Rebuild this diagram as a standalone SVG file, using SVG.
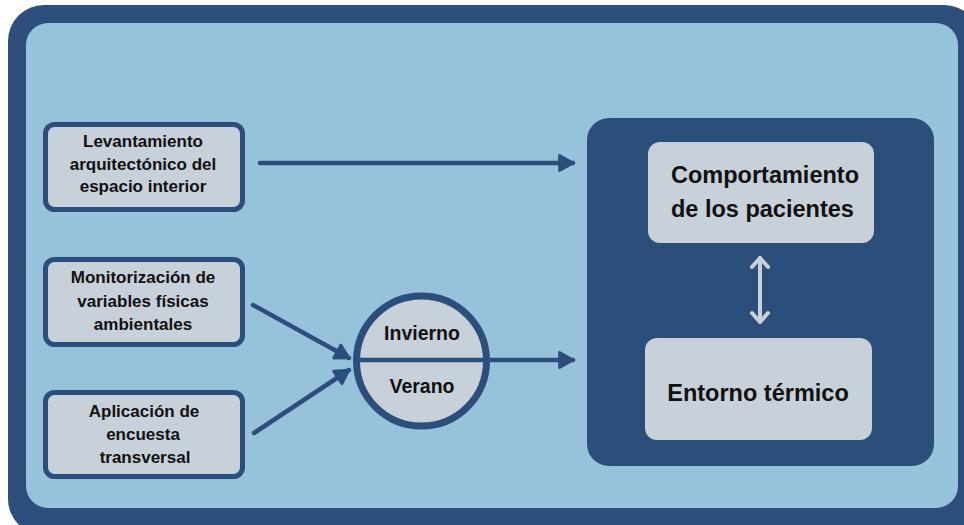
<svg xmlns="http://www.w3.org/2000/svg" width="964" height="525" viewBox="0 0 964 525">
<defs>
<style>
.t{font-family:"Liberation Sans",Arial,sans-serif;font-weight:bold;fill:#111;text-anchor:middle}
.s{font-size:17px}
.box{fill:#c8d0da;stroke:#2c4e7b;stroke-width:5}
.conn{stroke:#2c4e7b;stroke-width:4.5;stroke-linecap:round;fill:none}
.lt{fill:#c8d0da}
</style>
<marker id="ah" viewBox="0 0 10 10" refX="9" refY="5" markerWidth="4" markerHeight="4" orient="auto" markerUnits="strokeWidth">
<path d="M1.5,0.8 L9,5 L1.5,9.2 Z" fill="#2c4e7b" stroke="#2c4e7b" stroke-width="1.5" stroke-linejoin="round"/>
</marker>
</defs>
<rect x="8" y="5" width="972" height="530" rx="36" fill="#2c4e7b"/>
<rect x="26" y="23" width="932" height="485" rx="22" fill="#97c2dc"/>
<g id="panel">
<rect x="587" y="118" width="347" height="348" rx="22" fill="#2c4e7b"/>
</g>
<g id="n1">
<rect class="box" x="45.5" y="124.5" width="197" height="85" rx="9"/>
<text class="t s" x="143" y="147">Levantamiento</text>
<text class="t s" x="143" y="169.5">arquitectónico del</text>
<text class="t s" x="143" y="192">espacio interior</text>
</g>
<g id="n2">
<rect class="box" x="45.5" y="259.5" width="197" height="85" rx="9"/>
<text class="t s" x="143" y="283">Monitorización de</text>
<text class="t s" x="143" y="306.5">variables físicas</text>
<text class="t s" x="143" y="330">ambientales</text>
</g>
<g id="n3">
<rect class="box" x="45.5" y="392.5" width="197" height="84" rx="9"/>
<text class="t s" x="144" y="417">Aplicación de</text>
<text class="t s" x="143" y="440">encuesta</text>
<text class="t s" x="145" y="463">transversal</text>
</g>
<g id="connectors">
<line class="conn" x1="260" y1="163" x2="573" y2="163" marker-end="url(#ah)"/>
<line class="conn" x1="253" y1="305" x2="349" y2="358" marker-end="url(#ah)"/>
<line class="conn" x1="254" y1="433" x2="349" y2="370" marker-end="url(#ah)"/>
<line class="conn" x1="488" y1="360" x2="573" y2="360" marker-end="url(#ah)"/>
<g stroke="#c8d0da" stroke-width="4" stroke-linecap="round" stroke-linejoin="round" fill="none">
<line x1="760" y1="258" x2="760" y2="322"/>
<polyline points="752,267 760,258 768,267"/>
<polyline points="752,313 760,322 768,313"/>
</g>
</g>
<g id="season">
<circle cx="421.5" cy="361" r="65" fill="#c8d0da" stroke="#2c4e7b" stroke-width="7"/>
<line x1="356" y1="360" x2="488" y2="360" stroke="#2c4e7b" stroke-width="4.5"/>
<text class="t" x="422" y="340" font-size="19.5">Invierno</text>
<text class="t" x="422" y="393" font-size="19.5">Verano</text>
</g>
<g id="n4">
<rect class="lt" x="648" y="142" width="226" height="101" rx="12"/>
<text class="t" x="671" y="183" font-size="23.5" style="text-anchor:start">Comportamiento</text>
<text class="t" x="671" y="216.5" font-size="23.5" style="text-anchor:start">de los pacientes</text>
</g>
<g id="n5">
<rect class="lt" x="645" y="338" width="227" height="102" rx="12"/>
<text class="t" x="758" y="401" font-size="23.5">Entorno térmico</text>
</g>
</svg>
